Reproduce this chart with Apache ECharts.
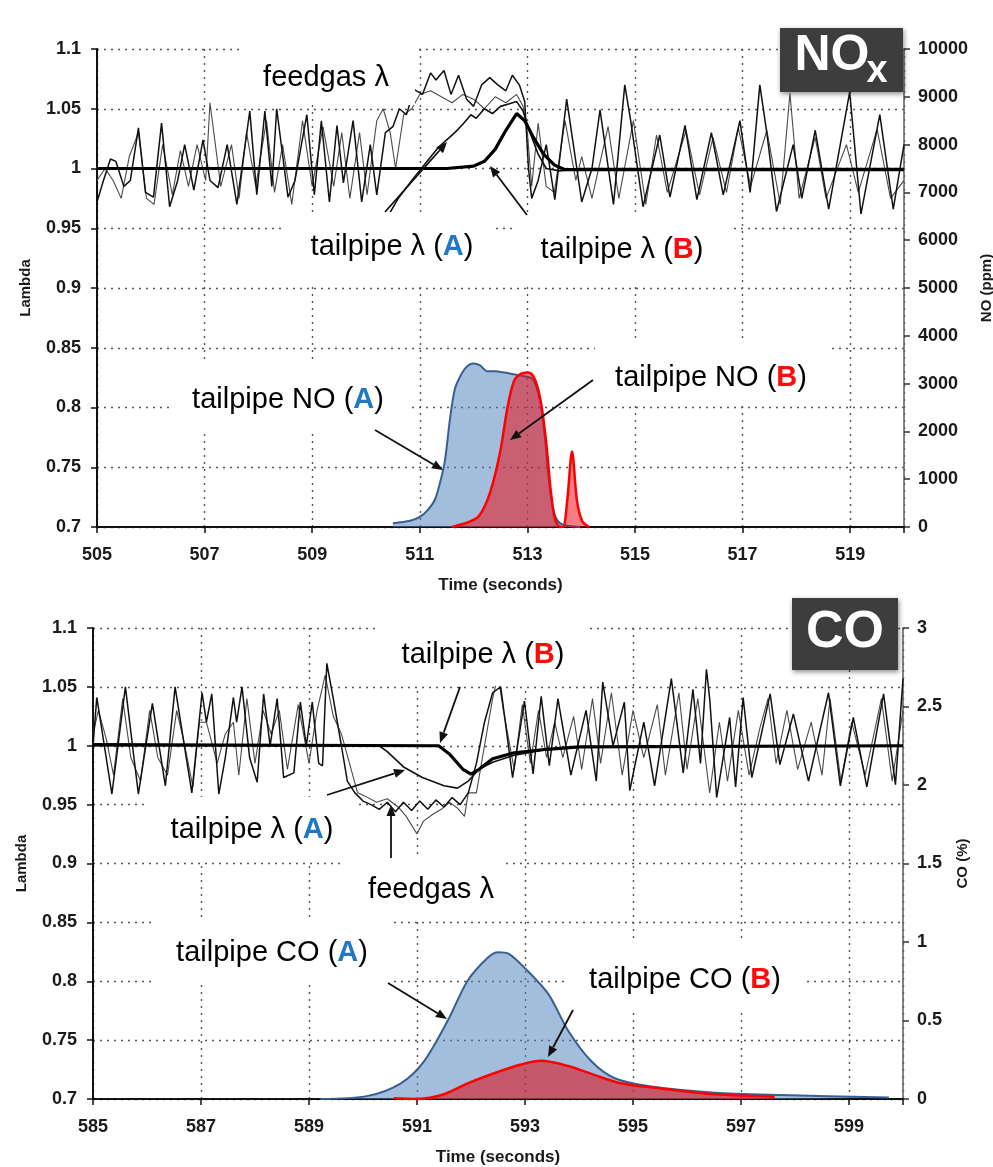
<!DOCTYPE html>
<html><head><meta charset="utf-8">
<script src="https://cdn.jsdelivr.net/npm/echarts@6/dist/echarts.min.js"></script>
<style>html,body{margin:0;padding:0;background:#fff}#c{width:993px;height:1167px}</style>
</head><body><div id="c"></div>
<script>
// ---------- TOP (NOx) panel data: [time s, lambda] ----------
const topFeedA = [[505.0,0.972],[505.12,0.99],[505.25,1.008],[505.35,1.006],[505.5,0.985],[505.62,0.99],[505.77,1.034],[505.9,0.98],[506.05,0.976],[506.2,1.038],[506.35,0.968],[506.5,0.99],[506.63,1.02],[506.8,0.982],[506.97,1.024],[507.1,0.99],[507.25,0.984],[507.42,1.02],[507.6,0.97],[507.84,1.048],[507.97,0.978],[508.12,1.048],[508.25,0.985],[508.34,1.05],[508.55,0.976],[508.68,0.99],[508.9,1.045],[509.04,0.978],[509.17,1.04],[509.32,0.972],[509.46,1.036],[509.58,0.988],[509.76,1.04],[509.92,0.972],[510.08,1.02],[510.2,0.978],[510.36,1.03],[510.5,1.035],[510.62,1.05],[510.75,1.045],[510.9,1.066],[511.05,1.062],[511.2,1.08],[511.3,1.074],[511.45,1.082],[511.58,1.062],[511.72,1.078],[511.87,1.058],[512.0,1.052],[512.15,1.07],[512.3,1.076],[512.45,1.07],[512.6,1.065],[512.72,1.078],[512.85,1.07],[512.95,1.056],[513.02,1.0],[513.08,0.975],[513.2,0.99],[513.35,1.02],[513.51,0.974],[513.73,1.058],[514.01,0.972],[514.2,1.0],[514.35,1.049],[514.6,0.97],[514.81,1.07],[514.92,1.04],[515.15,0.968],[515.46,1.028],[515.65,0.976],[515.93,1.036],[516.15,0.974],[516.42,1.03],[516.64,0.978],[516.95,1.04],[517.14,0.98],[517.32,1.07],[517.45,1.03],[517.63,0.964],[517.94,1.02],[518.1,0.975],[518.35,1.032],[518.6,0.966],[518.99,1.064],[519.2,0.962],[519.55,1.045],[519.8,0.966],[520.0,1.02]];
const topFeedB = [[505.0,0.99],[505.15,1.0],[505.3,0.99],[505.45,0.975],[505.6,1.01],[505.77,1.03],[505.92,0.975],[506.06,0.97],[506.22,1.02],[506.4,0.978],[506.55,1.015],[506.7,0.985],[506.86,1.02],[507.02,0.99],[507.1,1.055],[507.3,0.985],[507.5,1.02],[507.64,0.975],[507.78,1.03],[507.95,0.985],[508.15,1.04],[508.3,0.98],[508.45,1.02],[508.62,0.97],[508.82,1.04],[509.0,0.985],[509.2,1.035],[509.4,0.985],[509.55,1.03],[509.7,0.975],[509.88,1.03],[510.02,0.978],[510.2,1.04],[510.32,1.05],[510.45,1.03],[510.55,1.0],[510.7,1.045],[510.85,1.05],[511.0,1.062],[511.2,1.065],[511.4,1.06],[511.6,1.055],[511.8,1.062],[512.0,1.058],[512.2,1.05],[512.4,1.06],[512.6,1.055],[512.8,1.062],[512.92,1.052],[513.0,1.03],[513.08,0.985],[513.2,1.038],[513.35,0.985],[513.5,0.98],[513.7,1.04],[513.9,0.99],[514.01,1.01],[514.2,0.975],[514.5,1.035],[514.7,0.975],[514.97,1.04],[515.2,0.97],[515.4,1.028],[515.6,0.98],[515.95,1.032],[516.2,0.978],[516.45,1.026],[516.7,0.98],[516.92,1.034],[517.15,0.985],[517.45,1.032],[517.7,0.97],[517.88,1.063],[518.05,0.975],[518.35,1.026],[518.55,0.975],[518.93,1.02],[519.15,0.98],[519.5,1.033],[519.75,0.975],[520.0,0.99]];
const topTailA = [[510.38,0.958],[510.6,0.975],[510.85,0.99],[511.1,1.004],[511.35,1.018],[511.5,1.024],[511.65,1.03],[511.8,1.037],[511.95,1.045],[512.05,1.042],[512.2,1.05],[512.35,1.046],[512.5,1.052],[512.65,1.054],[512.8,1.056],[512.92,1.048],[513.05,1.03],[513.2,1.012],[513.35,1.0],[513.6,0.998],[514.0,1.0],[520.0,1.0]];
const topTailB = [[505.0,1.0],[511.5,1.0],[512.0,1.002],[512.2,1.006],[512.4,1.016],[512.6,1.032],[512.8,1.046],[512.95,1.04],[513.1,1.027],[513.3,1.012],[513.5,1.003],[513.7,0.999],[520.0,0.999]];
// tailpipe NO [time s, ppm]
const topNOA = [[510.5,80],[510.82,130],[511.0,210],[511.15,360],[511.28,570],[511.39,990],[511.47,1410],[511.56,2250],[511.65,2880],[511.75,3150],[511.86,3340],[511.99,3420],[512.12,3380],[512.25,3260],[512.4,3260],[512.58,3230],[512.77,3190],[512.96,3150],[513.1,3090],[513.23,2670],[513.33,1830],[513.42,780],[513.51,250],[513.64,60],[513.98,0]];
const topNOB = [[511.6,0],[511.9,100],[512.1,230],[512.3,700],[512.49,1550],[512.63,2500],[512.75,3050],[512.87,3200],[513.0,3230],[513.1,3170],[513.2,2880],[513.28,2400],[513.36,1650],[513.43,800],[513.5,220],[513.57,30],[513.66,0],[513.74,550],[513.83,1580],[513.92,560],[514.02,120],[514.15,0]];

// ---------- BOTTOM (CO) panel data ----------
const botFeedA = [[585.0,1.0],[585.07,1.041],[585.35,0.959],[585.6,1.05],[585.84,0.959],[586.1,1.036],[586.34,0.966],[586.52,1.05],[586.83,0.96],[587.02,1.045],[587.1,1.02],[587.2,1.044],[587.33,0.959],[587.45,0.99],[587.6,1.041],[587.66,1.02],[587.76,1.05],[587.9,0.99],[588.04,0.969],[588.16,1.044],[588.28,1.0],[588.41,1.04],[588.53,0.973],[588.72,0.977],[588.84,1.037],[588.95,1.0],[589.06,1.037],[589.18,0.985],[589.25,0.983],[589.33,1.07],[589.45,1.04],[589.6,1.0],[589.71,0.97],[589.85,0.96],[590.0,0.953],[590.15,0.95],[590.3,0.946],[590.45,0.952],[590.6,0.944],[590.75,0.952],[590.9,0.945],[591.05,0.953],[591.2,0.946],[591.35,0.954],[591.5,0.948],[591.65,0.956],[591.8,0.95],[591.95,0.96],[592.1,0.985],[592.25,1.02],[592.4,1.045],[592.55,1.05],[592.77,0.973],[592.99,1.038],[593.15,0.976],[593.3,1.042],[593.45,0.983],[593.61,1.04],[593.85,0.975],[594.13,1.03],[594.32,0.97],[594.44,1.054],[594.63,1.0],[594.84,1.037],[594.94,0.962],[595.2,1.02],[595.4,0.966],[595.71,1.057],[595.93,0.977],[596.11,1.048],[596.25,0.985],[596.36,1.065],[596.42,1.04],[596.55,0.956],[596.79,1.024],[596.9,0.965],[597.04,1.041],[597.2,0.973],[597.54,1.044],[597.72,0.984],[597.97,1.027],[598.25,0.97],[598.62,1.045],[598.84,0.966],[599.08,1.024],[599.33,0.965],[599.64,1.044],[599.86,0.967],[600.0,1.057]];
const botFeedB = [[585.0,1.01],[585.1,1.03],[585.25,1.005],[585.38,0.975],[585.55,1.04],[585.7,0.99],[585.88,0.97],[586.05,1.03],[586.2,0.99],[586.38,0.975],[586.55,1.03],[586.7,1.0],[586.85,0.965],[586.97,1.02],[587.1,1.02],[587.3,0.985],[587.45,1.01],[587.6,1.02],[587.7,0.975],[587.85,1.04],[588.0,0.985],[588.15,1.03],[588.3,1.01],[588.45,1.03],[588.6,0.98],[588.8,1.035],[589.0,0.985],[589.15,1.03],[589.3,1.06],[589.45,1.025],[589.6,1.01],[589.75,0.985],[589.9,0.96],[590.05,0.957],[590.25,0.952],[590.45,0.955],[590.65,0.948],[590.8,0.94],[591.0,0.925],[591.12,0.936],[591.3,0.942],[591.45,0.946],[591.6,0.952],[591.75,0.947],[591.88,0.94],[591.95,0.96],[592.1,0.96],[592.25,1.0],[592.4,1.04],[592.5,1.06],[592.6,1.03],[592.8,0.98],[592.95,1.035],[593.1,0.985],[593.25,1.03],[593.4,0.99],[593.55,1.02],[593.7,0.99],[593.9,1.025],[594.05,0.98],[594.25,1.04],[594.4,0.985],[594.6,1.045],[594.8,0.975],[595.0,1.03],[595.2,0.99],[595.45,1.035],[595.6,0.975],[595.85,1.045],[596.0,0.98],[596.2,1.04],[596.42,0.96],[596.6,1.02],[596.75,0.97],[596.95,1.03],[597.15,0.975],[597.35,1.015],[597.5,1.04],[597.65,0.985],[597.85,1.03],[598.05,0.98],[598.3,1.02],[598.5,0.975],[598.65,1.04],[598.85,0.97],[599.05,1.02],[599.3,0.975],[599.6,1.04],[599.8,0.97],[600.0,1.03]];
const botTailA = [[585.0,1.0],[590.3,1.0],[590.45,0.995],[590.75,0.982],[591.1,0.973],[591.5,0.966],[591.75,0.964],[591.95,0.97],[592.15,0.98],[592.4,0.986],[592.8,0.992],[593.3,0.996],[594.0,0.999],[600.0,1.0]];
const botTailB = [[585.0,1.001],[591.4,1.0],[591.6,0.993],[591.85,0.98],[592.0,0.976],[592.15,0.98],[592.4,0.989],[592.8,0.994],[593.4,0.997],[594.0,0.999],[600.0,1.0]];
// tailpipe CO [time s, %]
const botCOA = [[589.21,0],[590.09,0.02],[590.7,0.1],[591.13,0.24],[591.57,0.5],[591.94,0.755],[592.31,0.9],[592.5,0.935],[592.7,0.925],[592.98,0.84],[593.43,0.67],[593.8,0.435],[594.23,0.24],[594.65,0.134],[595.28,0.083],[596.51,0.04],[597.75,0.025],[599.74,0.01]];
const botCOB = [[590.57,0.005],[591.01,0],[591.5,0.03],[591.94,0.1],[592.56,0.18],[592.93,0.22],[593.3,0.243],[593.8,0.21],[594.23,0.16],[594.78,0.1],[595.58,0.064],[596.51,0.03],[597.62,0.015]];

// axis ranges
const topX = [505, 520], botX = [585, 600];
const lambdaRange = [0.7, 1.1];
const noRange = [0, 10000], coRange = [0, 3];

const FONT = "'Liberation Sans', Arial, sans-serif";
const chart = echarts.init(document.getElementById('c'), null, {renderer:'canvas'});

const dotted = {show:true, lineStyle:{color:'#555', type:[2,5], width:1.4}};
function xAxis(gi, r){
  return {type:'value', gridIndex:gi, min:r[0], max:r[1], interval:2,
    axisLine:{onZero:false, lineStyle:{color:'#111', width:2}},
    axisTick:{show:true, length:6, lineStyle:{color:'#111', width:1.5}},
    axisLabel:{color:'#1a1a1a', fontFamily:FONT, fontWeight:'bold', fontSize:18, margin:19,
      formatter: v => (v >= r[1] ? '' : String(v))},
    splitLine: dotted,
    name:'Time (seconds)', nameLocation:'middle', nameGap:50,
    nameTextStyle:{color:'#1a1a1a', fontFamily:FONT, fontWeight:'bold', fontSize:17}};
}
function yLeft(gi){
  return {type:'value', gridIndex:gi, min:lambdaRange[0], max:lambdaRange[1], interval:0.05, position:'left',
    axisLine:{show:true, lineStyle:{color:'#111', width:2}},
    axisTick:{show:true, length:6, lineStyle:{color:'#111', width:1.5}},
    axisLabel:{color:'#1a1a1a', fontFamily:FONT, fontWeight:'bold', fontSize:18, margin:16},
    splitLine: dotted,
    name:'Lambda', nameLocation:'middle', nameGap:64, nameRotate:90,
    nameTextStyle:{color:'#1a1a1a', fontFamily:FONT, fontWeight:'bold', fontSize:15}};
}
function yRight(gi, r, iv, nm, gap){
  return {type:'value', gridIndex:gi, min:r[0], max:r[1], interval:iv, position:'right',
    axisLine:{show:true, lineStyle:{color:'#666', width:1.6}},
    axisTick:{show:true, length:6, lineStyle:{color:'#333', width:1.5}},
    axisLabel:{color:'#1a1a1a', fontFamily:FONT, fontWeight:'bold', fontSize:18, margin:14,
      formatter: v => String(v)},
    splitLine:{show:false},
    name:nm, nameLocation:'middle', nameGap:gap, nameRotate:90,
    nameTextStyle:{color:'#1a1a1a', fontFamily:FONT, fontWeight:'bold', fontSize:15}};
}
function lam(data, xi, yi, color, width, z){
  return {type:'line', xAxisIndex:xi, yAxisIndex:yi, data, showSymbol:false, symbol:'none',
    lineStyle:{color, width}, z, animation:false};
}
function area(data, xi, yi, stroke, fill, width, z){
  return {type:'line', xAxisIndex:xi, yAxisIndex:yi, data, showSymbol:false, symbol:'none',
    smooth:0.3, lineStyle:{color:stroke, width}, areaStyle:{color:fill}, z, animation:false};
}

// annotation helpers (decorations only)
function box(x1,y1,x2,y2){ return {type:'rect', shape:{x:x1,y:y1,width:x2-x1,height:y2-y1}, style:{fill:'#fff'}, z:100}; }
function arrow(x1,y1,x2,y2){
  const a=Math.atan2(y2-y1,x2-x1), L=11, W=4.5;
  const bx=x2-L*Math.cos(a), by=y2-L*Math.sin(a), px=-Math.sin(a), py=Math.cos(a);
  return [{type:'line', shape:{x1,y1,x2:bx,y2:by}, style:{stroke:'#111', lineWidth:1.8}, z:102},
          {type:'polygon', shape:{points:[[x2,y2],[bx+W*px,by+W*py],[bx-W*px,by-W*py]]}, style:{fill:'#111'}, z:102}];
}
const rich = {t:{fontFamily:FONT, fontSize:29, fill:'#000', color:'#000'},
              a:{fontFamily:FONT, fontSize:29, fontWeight:'bold', fill:'#1f78c4', color:'#1f78c4'},
              b:{fontFamily:FONT, fontSize:29, fontWeight:'bold', fill:'#ff0a0a', color:'#ff0a0a'}};
function label(x,y,txt){
  return {type:'text', x, y, z:103, style:{text:txt, rich, font:'29px '+FONT, fill:'#000',
    align:'center', verticalAlign:'middle', textAlign:'center', textVerticalAlign:'middle'}};
}
function badgeText(x,y,txt,size){
  return {type:'text', x, y, z:106, style:{text:txt, font:'bold '+size+'px '+FONT, fill:'#fff',
    align:'center', verticalAlign:'middle', textAlign:'center', textVerticalAlign:'middle'}};
}

const graphics = [
  // top panel boxes
  box(240,45,415,105), box(285,212,492,282), box(517,215,730,283), box(170,362,407,432), box(595,340,828,405),
  // bottom panel boxes
  box(377,618,588,686), box(147,797,358,862), box(343,858,505,918), box(155,920,393,983), box(565,943,805,1010),
  ...arrow(385,212,447,142), ...arrow(527,215,490,166),
  ...arrow(375,430,443,470), ...arrow(593,380,510,440),
  ...arrow(460,687,440,743), ...arrow(327,795,405,770), ...arrow(391,858,391,805),
  ...arrow(388,983,447,1019), ...arrow(573,1010,548,1057),
  label(326,78,'{t|feedgas λ}'),
  label(392,247,'{t|tailpipe λ (}{a|A}{t|)}'),
  label(622,250,'{t|tailpipe λ (}{b|B}{t|)}'),
  label(288,400,'{t|tailpipe NO (}{a|A}{t|)}'),
  label(711,378,'{t|tailpipe NO (}{b|B}{t|)}'),
  label(483,655,'{t|tailpipe λ (}{b|B}{t|)}'),
  label(252,830,'{t|tailpipe λ (}{a|A}{t|)}'),
  label(431,890,'{t|feedgas λ}'),
  label(272,953,'{t|tailpipe CO (}{a|A}{t|)}'),
  label(685,980,'{t|tailpipe CO (}{b|B}{t|)}'),
  // badges
  {type:'rect', shape:{x:780,y:28,width:123,height:64}, style:{fill:'#3d3d3d', shadowBlur:5, shadowColor:'rgba(0,0,0,0.45)', shadowOffsetX:1, shadowOffsetY:2}, z:105},
  badgeText(832,56,'NO',50), badgeText(877,72,'x',38),
  {type:'rect', shape:{x:792,y:598,width:106,height:72}, style:{fill:'#3d3d3d', shadowBlur:5, shadowColor:'rgba(0,0,0,0.45)', shadowOffsetX:1, shadowOffsetY:2}, z:105},
  badgeText(845,633,'CO',52)
];

chart.setOption({
  animation:false,
  backgroundColor:'#fff',
  grid:[{left:97, right:89, top:49, height:478, containLabel:false, outerBoundsMode:'none'},
        {left:93, right:90, top:628, height:471, containLabel:false, outerBoundsMode:'none'}],
  xAxis:[xAxis(0, topX), xAxis(1, botX)],
  yAxis:[yLeft(0), yRight(0, noRange, 1000, 'NO (ppm)', 58), yLeft(1), yRight(1, coRange, 0.5, 'CO (%)', 52)],
  series:[
    lam(topFeedB, 0, 0, '#4a4a4a', 1.1, 3),
    lam(topFeedA, 0, 0, '#111', 1.5, 4),
    lam(topTailA, 0, 0, '#111', 1.6, 5),
    lam(topTailB, 0, 0, '#000', 3.2, 6),
    area(topNOA, 0, 1, '#3a5f8f', 'rgba(79,129,189,0.75)', 2, 7),
    area(topNOB, 0, 1, '#ff0000', 'rgba(235,10,20,0.75)', 2.5, 8),
    lam(botFeedB, 1, 2, '#4a4a4a', 1.1, 3),
    lam(botFeedA, 1, 2, '#111', 1.5, 4),
    lam(botTailA, 1, 2, '#111', 1.6, 5),
    lam(botTailB, 1, 2, '#000', 3.2, 6),
    area(botCOA, 1, 3, '#3a5f8f', 'rgba(79,129,189,0.75)', 2, 7),
    area(botCOB, 1, 3, '#ff0000', 'rgba(220,20,30,0.85)', 2.5, 8)
  ],
  graphic: graphics
});
</script></body></html>
